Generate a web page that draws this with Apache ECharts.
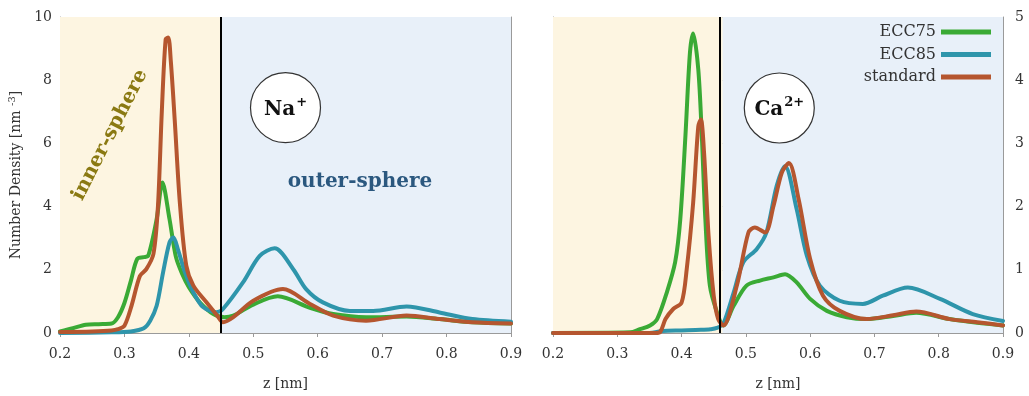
<!DOCTYPE html>
<html>
<head>
<meta charset="utf-8">
<script src="https://cdn.jsdelivr.net/npm/echarts@6/dist/echarts.min.js"></script>
<style>
  html, body { margin: 0; padding: 0; background: #ffffff; }
  #chart { width: 1029px; height: 396px; }
</style>
</head>
<body>
<div id="chart"></div>
<script>
// Ion density profiles near the surface: Na+ (left panel) and Ca2+ (right panel)
const seriesNames = ['ECC75', 'ECC85', 'standard'];
const seriesColors = ['#3aaa35', '#2e95ab', '#b5562f'];
const xTicks = [0.2, 0.3, 0.4, 0.5, 0.6, 0.7, 0.8, 0.9];

// Na+ panel
const naEcc75Z = [0.20, 0.22, 0.24, 0.26, 0.28, 0.29, 0.30, 0.31, 0.32, 0.33, 0.337, 0.35, 0.359, 0.37, 0.38, 0.39, 0.40, 0.417, 0.438, 0.455, 0.469, 0.50, 0.538, 0.588, 0.624, 0.675, 0.738, 0.789, 0.84, 0.90];
const naEcc75 = [0.05, 0.15, 0.26, 0.28, 0.30, 0.50, 0.95, 1.65, 2.35, 2.40, 2.45, 3.60, 4.76, 3.60, 2.40, 1.85, 1.45, 0.97, 0.60, 0.50, 0.55, 0.90, 1.16, 0.80, 0.60, 0.50, 0.52, 0.44, 0.34, 0.30];

const naEcc85Z = [0.20, 0.28, 0.31, 0.33, 0.34, 0.35, 0.36, 0.37, 0.376, 0.383, 0.394, 0.407, 0.422, 0.443, 0.453, 0.484, 0.51, 0.533, 0.562, 0.582, 0.608, 0.65, 0.686, 0.738, 0.789, 0.84, 0.90];
const naEcc85 = [0.00, 0.02, 0.05, 0.15, 0.39, 0.86, 1.92, 2.87, 3.02, 2.65, 1.92, 1.29, 0.82, 0.66, 0.76, 1.60, 2.44, 2.68, 2.02, 1.39, 0.97, 0.70, 0.70, 0.84, 0.65, 0.44, 0.36];

const naStdZ = [0.20, 0.25, 0.28, 0.29, 0.30, 0.311, 0.324, 0.334, 0.345, 0.352, 0.358, 0.364, 0.368, 0.372, 0.378, 0.386, 0.396, 0.407, 0.427, 0.444, 0.453, 0.469, 0.50, 0.546, 0.588, 0.624, 0.675, 0.738, 0.789, 0.84, 0.90];
const naStd = [0.03, 0.05, 0.08, 0.12, 0.23, 0.86, 1.80, 2.02, 2.50, 4.00, 7.00, 9.30, 9.35, 8.60, 6.76, 4.13, 2.13, 1.50, 0.98, 0.55, 0.34, 0.50, 1.02, 1.39, 0.92, 0.55, 0.39, 0.55, 0.44, 0.34, 0.30];

// Ca2+ panel
const caEcc75Z = [0.20, 0.32, 0.335, 0.351, 0.362, 0.377, 0.39, 0.398, 0.406, 0.413, 0.418, 0.426, 0.4315, 0.437, 0.444, 0.455, 0.465, 0.481, 0.501, 0.522, 0.543, 0.561, 0.579, 0.60, 0.626, 0.657, 0.688, 0.729, 0.765, 0.817, 0.86, 0.90];
const caEcc75 = [0.00, 0.01, 0.06, 0.12, 0.22, 0.64, 1.12, 1.80, 3.12, 4.43, 4.74, 4.17, 3.12, 1.80, 0.75, 0.33, 0.12, 0.43, 0.75, 0.83, 0.88, 0.93, 0.80, 0.54, 0.35, 0.25, 0.22, 0.27, 0.32, 0.22, 0.16, 0.12];

const caEcc85Z = [0.20, 0.35, 0.37, 0.40, 0.43, 0.445, 0.455, 0.465, 0.481, 0.496, 0.517, 0.532, 0.548, 0.561, 0.579, 0.595, 0.615, 0.646, 0.682, 0.713, 0.752, 0.802, 0.853, 0.90];
const caEcc85 = [0.00, 0.00, 0.03, 0.04, 0.05, 0.06, 0.08, 0.15, 0.64, 1.12, 1.33, 1.59, 2.33, 2.64, 1.96, 1.22, 0.75, 0.51, 0.46, 0.59, 0.72, 0.54, 0.30, 0.19];

const caStdZ = [0.20, 0.36, 0.367, 0.375, 0.387, 0.40, 0.408, 0.418, 0.426, 0.43, 0.435, 0.442, 0.45, 0.457, 0.465, 0.486, 0.504, 0.514, 0.53, 0.543, 0.556, 0.567, 0.582, 0.60, 0.62, 0.646, 0.688, 0.729, 0.765, 0.817, 0.86, 0.90];
const caStd = [0.00, 0.00, 0.02, 0.22, 0.38, 0.48, 1.01, 2.06, 3.27, 3.38, 2.85, 1.54, 0.59, 0.22, 0.12, 0.75, 1.59, 1.67, 1.59, 2.01, 2.54, 2.69, 2.12, 1.17, 0.59, 0.35, 0.22, 0.28, 0.34, 0.22, 0.17, 0.12];

// inner/outer sphere boundaries (z, nm)
const naBoundary = 0.45;
const caBoundary = 0.464;
const zMin = 0.2, zMax = 0.9;

// ion badge positions [z, density]
const naBadge = [0.55, 7.13];
const caBadge = [0.552, 3.56];

const serif = 'DejaVu Serif';
const zip = (xs, ys) => xs.map((x, i) => [x, ys[i]]);

function lineSeries(name, color, xs, ys, gi) {
  return {
    name: name, type: 'line', xAxisIndex: gi * 2, yAxisIndex: gi * 2,
    data: zip(xs, ys), smooth: 0.3,
    showSymbol: false, symbol: 'none', z: 3,
    lineStyle: { color: color, width: 4, cap: 'round', join: 'round' },
    itemStyle: { color: color }
  };
}

function regionSeries(gi, boundary) {
  return {
    type: 'line', xAxisIndex: gi * 2, yAxisIndex: gi * 2, data: [], z: -1,
    silent: true,
    markArea: {
      silent: true,
      data: [
        [{ xAxis: zMin, itemStyle: { color: '#fdf5e1' } }, { xAxis: boundary }],
        [{ xAxis: boundary, itemStyle: { color: '#e8f0f9' } }, { xAxis: zMax }]
      ]
    }
  };
}

function boundarySeries(gi, boundary) {
  return {
    type: 'line', xAxisIndex: gi * 2, yAxisIndex: gi * 2, data: [], z: 5,
    silent: true,
    markLine: {
      silent: true, symbol: 'none', label: { show: false },
      lineStyle: { color: '#000', width: 2, type: 'solid' },
      data: [{ xAxis: boundary }]
    }
  };
}

function badgeSeries(gi, pos, rich) {
  return {
    type: 'scatter', xAxisIndex: gi * 2, yAxisIndex: gi * 2, z: 6, silent: true,
    data: [pos], symbol: 'circle', symbolSize: 70,
    itemStyle: { color: '#ffffff', borderColor: '#333', borderWidth: 1.2, opacity: 1 },
    label: {
      show: true, position: 'inside', formatter: rich,
      rich: {
        a: { fontFamily: serif, fontWeight: 'bold', fontSize: 20, color: '#111', verticalAlign: 'bottom', lineHeight: 24 },
        b: { fontFamily: serif, fontWeight: 'bold', fontSize: 13, color: '#111', verticalAlign: 'top', lineHeight: 24, padding: [0, 0, 10, 1] }
      }
    }
  };
}

const gridLine = { show: true, lineStyle: { color: '#b8b8b8', type: [2, 2], width: 1 } };
const frame = { show: true, lineStyle: { color: '#9a9a9a', width: 1 } };
const tickIn = { show: true, inside: true, length: 4, lineStyle: { color: '#9a9a9a' } };
const labelStyle = { fontFamily: serif, fontSize: 14, color: '#333' };

function xAxes(gi) {
  return [
    {
      gridIndex: gi, type: 'value', min: zMin, max: zMax, interval: 0.1,
      axisLine: frame, axisTick: tickIn, splitLine: gridLine,
      axisLabel: Object.assign({ margin: 14, formatter: v => (Math.round(v * 10) / 10).toFixed(1) }, labelStyle),
      name: 'z [nm]', nameLocation: 'middle', nameGap: 44,
      nameTextStyle: { fontFamily: serif, fontSize: 14, color: '#333' }
    },
    {
      gridIndex: gi, type: 'value', position: 'top', min: zMin, max: zMax, interval: 0.1,
      axisLine: frame, axisTick: tickIn, splitLine: { show: false }, axisLabel: { show: false }
    }
  ];
}

const option = {
  animation: false,
  backgroundColor: '#ffffff',
  grid: [
    { left: 60, top: 17, width: 451, height: 317 },
    { left: 553, top: 17, width: 450, height: 317 }
  ],
  xAxis: xAxes(0).concat(xAxes(1)),
  yAxis: [
    {
      gridIndex: 0, type: 'value', min: 0, max: 10, interval: 2, position: 'left',
      axisLine: frame, axisTick: tickIn, splitLine: gridLine,
      axisLabel: Object.assign({ margin: 8 }, labelStyle),
      name: '{a|Number Density [nm }{b|-3}{a|]}', nameLocation: 'middle', nameGap: 35,
      nameTextStyle: {
        rich: {
          a: { fontFamily: serif, fontSize: 14, color: '#333' },
          b: { fontFamily: serif, fontSize: 10, color: '#333', verticalAlign: 'top', padding: [0, 0, 8, 0] }
        }
      }
    },
    {
      gridIndex: 0, type: 'value', min: 0, max: 10, interval: 2, position: 'right',
      axisLine: frame, axisTick: tickIn, splitLine: { show: false }, axisLabel: { show: false }
    },
    {
      gridIndex: 1, type: 'value', min: 0, max: 5, interval: 1, position: 'left',
      axisLine: frame, axisTick: tickIn, splitLine: gridLine, axisLabel: { show: false }
    },
    {
      gridIndex: 1, type: 'value', min: 0, max: 5, interval: 1, position: 'right',
      axisLine: frame, axisTick: tickIn, splitLine: { show: false },
      axisLabel: Object.assign({ margin: 12 }, labelStyle)
    }
  ],
  legend: {
    data: seriesNames,
    orient: 'vertical', right: 36, top: 19, align: 'right',
    icon: 'rect', itemWidth: 50, itemHeight: 5, itemGap: 6.5,
    backgroundColor: '#e8f0f9', padding: [5, 2, 5, 8],
    textStyle: { fontFamily: serif, fontSize: 16, color: '#333', lineHeight: 16 }
  },
  graphic: [
    {
      type: 'text', x: 110, y: 135, rotation: 63 * Math.PI / 180, z: 10, silent: true,
      style: { text: 'inner-sphere', fontFamily: serif, fontWeight: 'bold', fontSize: 20, fill: '#8a7912', align: 'center', verticalAlign: 'middle' }
    },
    {
      type: 'text', x: 360, y: 182, z: 10, silent: true,
      style: { text: 'outer-sphere', fontFamily: serif, fontWeight: 'bold', fontSize: 20, fill: '#2b587f', align: 'center', verticalAlign: 'middle' }
    }
  ],
  series: [
    regionSeries(0, naBoundary),
    regionSeries(1, caBoundary),
    lineSeries('ECC75', seriesColors[0], naEcc75Z, naEcc75, 0),
    lineSeries('ECC85', seriesColors[1], naEcc85Z, naEcc85, 0),
    lineSeries('standard', seriesColors[2], naStdZ, naStd, 0),
    lineSeries('ECC75', seriesColors[0], caEcc75Z, caEcc75, 1),
    lineSeries('ECC85', seriesColors[1], caEcc85Z, caEcc85, 1),
    lineSeries('standard', seriesColors[2], caStdZ, caStd, 1),
    boundarySeries(0, naBoundary),
    boundarySeries(1, caBoundary),
    badgeSeries(0, naBadge, '{a|Na}{b|+}'),
    badgeSeries(1, caBadge, '{a|Ca}{b|2+}')
  ]
};

const chart = echarts.init(document.getElementById('chart'), null, { renderer: 'canvas' });
chart.setOption(option);
</script>
</body>
</html>
